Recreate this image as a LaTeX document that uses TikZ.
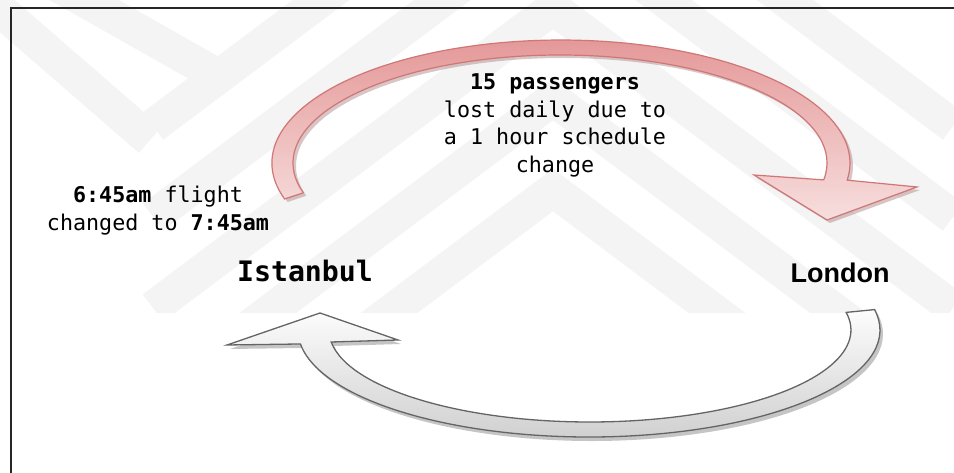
\documentclass[tikz,border=0pt]{standalone}
\usepackage{fontspec}
\setmonofont{DejaVu Sans Mono}
\newfontfamily\citysans{Liberation Sans}
\definecolor{wmark}{gray}{0.955}
\definecolor{redfillA}{RGB}{228,150,150}
\definecolor{redfillB}{RGB}{247,222,222}
\definecolor{redline}{RGB}{208,118,118}
\definecolor{redshade}{RGB}{170,130,130}
\definecolor{greyline}{RGB}{100,100,100}
\tikzset{
  band/.style={draw=wmark, line width=34pt, line join=miter},
  monotext/.style={font=\ttfamily\fontsize{21.7}{27.5}\selectfont, inner sep=0pt, anchor=base},
  citytext/.style={inner sep=0pt, anchor=base},
  redarrow/.style={draw=redline, line width=1.2pt, top color=redfillA, bottom color=redfillB},
  greyarrow/.style={draw=greyline, line width=1.3pt, top color=gray!2, bottom color=gray!38},
  arrowshadow/.style={fill=#1, opacity=0.45, draw=none},
  framerule/.style={draw=black!85, line width=1.5pt}
}
\begin{document}
\begin{tikzpicture}[x=1pt, y=1pt]
\useasboundingbox (0,0) rectangle (954,473);
\fill[white] (0,0) rectangle (954,473);

% faint background stripes
\begin{scope}
  \clip (0,160) rectangle (954,473);
  \foreach \k in {0,1,2,3,4} {
    \draw[band] (153,{283+91*\k-300}) -- (553,{283+91*\k}) -- (953,{283+91*\k-300});
  }
  \draw[band] (-40,498) -- (150,333);
  \draw[band] (40,498) -- (220,396);
\end{scope}

% frame
\draw[framerule] (11,0) -- (11,465) -- (954,465);

% red arrow: Istanbul -> London
\begin{scope}[shift={(3,-3)}]
  \path[arrowshadow=redshade] (303.3,280.2) -- (284.6,274.0)
    arc[start angle=197, end angle=-8, x radius=289, y radius=123]
    -- (917,286) -- (827,253) -- (754,298) -- (823.7,293.1)
    arc[start angle=-9, end angle=196, x radius=267, y radius=108] -- cycle;
\end{scope}
\path[redarrow] (303.3,280.2) -- (284.6,274.0)
  arc[start angle=197, end angle=-8, x radius=289, y radius=123]
  -- (917,286) -- (827,253) -- (754,298) -- (823.7,293.1)
  arc[start angle=-9, end angle=196, x radius=267, y radius=108] -- cycle;

% grey arrow: London -> Istanbul
\begin{scope}[shift={(3,-4)}]
  \path[arrowshadow=gray] (846.2,160.6) -- (874.6,163.4)
    arc[start angle=11, end angle=-172.5, x radius=291, y radius=107]
    -- (227,128) -- (320,160) -- (398,133) -- (331.2,131.0)
    arc[start angle=-172.5, end angle=11, x radius=261, y radius=92] -- cycle;
\end{scope}
\path[greyarrow] (846.2,160.6) -- (874.6,163.4)
  arc[start angle=11, end angle=-172.5, x radius=291, y radius=107]
  -- (227,128) -- (320,160) -- (398,133) -- (331.2,131.0)
  arc[start angle=-172.5, end angle=11, x radius=261, y radius=92] -- cycle;

% labels
\node[monotext] (p1) at (555,383) {\textbf{15 passengers}};
\node[monotext] (p2) at (555,355.5) {lost daily due to};
\node[monotext] (p3) at (555,328) {a 1 hour schedule};
\node[monotext] (p4) at (555,300.5) {change};

\node[monotext] (f1) at (158,270) {\textbf{6:45am} flight};
\node[monotext] (f2) at (158,242.5) {changed to \textbf{7:45am}};

\node[citytext, font=\ttfamily\bfseries\fontsize{28.2}{34}\selectfont] (ist) at (305,191) {Istanbul};
\node[citytext, font=\citysans\bfseries\fontsize{27}{32}\selectfont] (lon) at (840,190) {London};
\end{tikzpicture}
\end{document}
